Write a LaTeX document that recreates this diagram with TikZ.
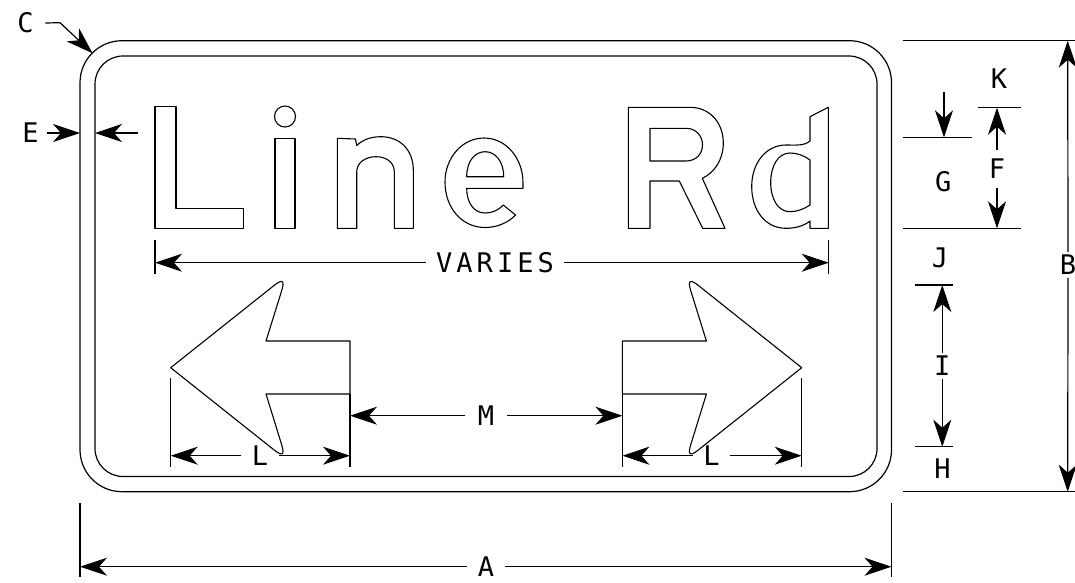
\documentclass[tikz,border=0pt]{standalone}
\usepackage{fontspec}
\setmainfont{DejaVu Sans Mono}
\usetikzlibrary{arrows.meta,calc}
\tikzset{
  >={Stealth[length=27pt,width=18pt,inset=8pt]},
  lbl/.style={font=\fontsize{27}{27}\selectfont, inner sep=0pt, outer sep=#1},
  lbl/.default=10pt,
  glyph/.style={line width=1.1pt, line join=round},
}
\begin{document}
\begin{tikzpicture}[x=1pt,y=-1pt,line width=1.2pt]
\useasboundingbox (0,0) rectangle (1075,582);

% sign borders
\draw[rounded corners=42pt] (80,40.7) rectangle (891.5,491.7);
\draw[rounded corners=28pt] (95,56) rectangle (877,476.5);

% legend "Line Rd" (outlined)
\draw[glyph] (155,106.7) -- (176,106.7) -- (176,208.3) -- (243.3,208.3) -- (243.3,228.3) -- (155,228.3) -- cycle;
\draw[glyph] (275,138.3) rectangle (295,228.3);
\draw[glyph] (285,116.5) circle[radius=10.5];
\draw[glyph] (337.3,228.3) -- (337.3,138.3) -- (355.5,139) -- (356.7,145.5)
  .. controls (363,139.5) and (371,136.7) .. (381,136.7)
  .. controls (400,136.7) and (413.3,150) .. (413.3,170)
  -- (413.3,228.3) -- (394.3,228.3) -- (394.3,172)
  .. controls (394.3,162) and (386,156.7) .. (376,156.7)
  .. controls (365,156.7) and (356.7,163) .. (356.7,172)
  -- (356.7,228.3) -- cycle;
\draw[glyph] (523,188.3) -- (523,183)
  .. controls (523,158) and (506,138) .. (484,138)
  .. controls (462,138) and (445,158) .. (445,182)
  .. controls (445,208) and (462,227.5) .. (485,227.5)
  .. controls (498,227.5) and (509,222) .. (515.5,215)
  -- (503.3,205)
  .. controls (498,210.5) and (492,213) .. (485,213)
  .. controls (474,213) and (466.7,203) .. (466.7,188.3) -- cycle;
\draw[glyph] (466.7,176.7) -- (503.7,176.7)
  .. controls (503.7,161) and (495,151.7) .. (485.2,151.7)
  .. controls (475,151.7) and (466.7,161) .. (466.7,176.7) -- cycle;
\draw[glyph] (628.3,107.3) -- (690,107.3)
  .. controls (710,107.3) and (723.3,123) .. (723.3,143)
  .. controls (723.3,160) and (714,173) .. (702.3,178.3)
  -- (725,228.3) -- (702.7,228.3) -- (679.3,181) -- (650,181) -- (650,228.3) -- (628.3,228.3) -- cycle;
\draw[glyph] (650,128.3) -- (686,128.3)
  .. controls (696,128.3) and (702.5,136) .. (702.5,144.7)
  .. controls (702.5,154) and (696,161) .. (686,161) -- (650,161) -- cycle;
\draw[glyph] (828.3,107.3) -- (828.3,228.3) -- (810,228.3) -- (810,221)
  .. controls (804,226) and (795,228.3) .. (786,228.3)
  .. controls (765,228.3) and (751.7,210) .. (751.7,186.5)
  .. controls (751.7,163) and (766,145) .. (786,145)
  .. controls (796,145) and (804,146) .. (810,141)
  -- (810,116.7) -- cycle;
\draw[glyph] (810,160)
  .. controls (804,155.5) and (797,153) .. (790,153)
  .. controls (778,153) and (770.7,166) .. (770.7,182.5)
  .. controls (770.7,199) and (778,211.7) .. (790,211.7)
  .. controls (797,211.7) and (804,209) .. (810,205) -- cycle;

% sign arrows
\draw[glyph] (170.7,367.7) -- (273.9,285.6) .. controls (282.5,278.7) and (284.9,280.4) .. (281.6,290.9)
  -- (266,341) -- (350,341) -- (350,394) -- (266,394)
  -- (281.6,444.5) .. controls (284.9,455.0) and (282.5,456.7) .. (273.9,449.8) -- cycle;
\draw[glyph] (801.7,367.7) -- (698.5,285.6) .. controls (689.9,278.7) and (687.5,280.4) .. (690.8,290.9)
  -- (706.4,341) -- (622.4,341) -- (622.4,394) -- (706.4,394)
  -- (690.8,444.5) .. controls (687.5,455.0) and (689.9,456.7) .. (698.5,449.8) -- cycle;

% ---- dimensions ----
% VARIES
\draw (155,240) -- (155,274);
\draw (828.7,240) -- (828.7,274);
\coordinate (V1) at (155,262.7);
\coordinate (V2) at (828.7,262.7);
\node[lbl=10pt] (Vlab) at (495,262.7) {\addfontfeature{LetterSpace=15}VARIES};
\draw[<-] (V1) -- (Vlab);
\draw[->] (Vlab) -- (V2);

% extension lines of arrows
\draw (170.7,378.3) -- (170.7,466.7);
\draw (350,394) -- (350,466.7);
\draw (622.4,394) -- (622.4,466.7);
\draw (801.7,378.3) -- (801.7,466.7);

% M
\coordinate (M1) at (350,415.7);
\coordinate (M2) at (622.4,415.7);
\node[lbl=12.5pt] (Mlab) at (486,415.7) {M};
\draw[<-] (M1) -- (Mlab);
\draw[->] (Mlab) -- (M2);

% L (left)
\coordinate (La1) at (170.7,455.7);
\coordinate (La2) at (350,455.7);
\node[lbl=10.5pt] (Lalab) at (260,455.7) {L};
\draw[<-] (La1) -- (Lalab);
\draw[->] (Lalab) -- (La2);

% L (right)
\coordinate (Lb1) at (622.4,455.7);
\coordinate (Lb2) at (801.7,455.7);
\node[lbl=10.5pt] (Lblab) at (711.5,455.7) {L};
\draw[<-] (Lb1) -- (Lblab);
\draw[->] (Lblab) -- (Lb2);

% A
\draw (80,503) -- (80,577);
\draw (891.5,503) -- (891.5,577);
\coordinate (A1) at (80,566.7);
\coordinate (A2) at (891.5,566.7);
\node[lbl=11pt] (Alab) at (486,566.7) {A};
\draw[<-] (A1) -- (Alab);
\draw[->] (Alab) -- (A2);

% E
\node[lbl=8pt] (Elab) at (30.4,133) {E};
\coordinate (Eo) at (80,133);
\coordinate (Ei) at (95,133);
\coordinate (Ef) at (138,133);
\draw[->] (Elab) -- (Eo);
\draw[->] (Ef) -- (Ei);

% C
\node[lbl=11.7pt] (Clab) at (25.5,23) {C};
\coordinate (Cb) at (60,22.7);
\coordinate (Ct) at (92.6,53.3);
\draw[->] (Clab.east) -- (Cb) -- (Ct);

% right side: B
\draw (903,40.7) -- (1075,40.7);
\draw (903,491.7) -- (1075,491.7);
\coordinate (B1) at (1067.7,40.7);
\coordinate (B2) at (1067.7,491.7);
\node[lbl=3pt] (Blab) at (1068,265) {B};
\draw[->] (Blab) -- (B1);
\draw[->] (Blab) -- (B2);

% K, F, G
\draw (978,107.7) -- (1020.7,107.7);
\draw (903,137.3) -- (971.7,137.3);
\draw (903,228.3) -- (1020.7,228.3);
\node[lbl] (Klab) at (999,78.3) {K};
\node[lbl] (Glab) at (943.3,181.7) {G};
\coordinate (Gf) at (944,91.7);
\coordinate (Gt) at (944,137.3);
\draw[->] (Gf) -- (Gt);
\coordinate (F1) at (997,107.7);
\coordinate (F2) at (997,228.3);
\node[lbl=9pt] (Flab) at (997,169) {F};
\draw[->] (Flab) -- (F1);
\draw[->] (Flab) -- (F2);

% J, I, H
\node[lbl] (Jlab) at (940,258) {J};
\draw (915,285) -- (953,285);
\draw (915,446.7) -- (953,446.7);
\coordinate (I1) at (942.3,285);
\coordinate (I2) at (942.3,446.7);
\node[lbl=3pt] (Ilab) at (942.3,366) {I};
\draw[->] (Ilab) -- (I1);
\draw[->] (Ilab) -- (I2);
\node[lbl] (Hlab) at (942.5,469) {H};
\end{tikzpicture}
\end{document}
